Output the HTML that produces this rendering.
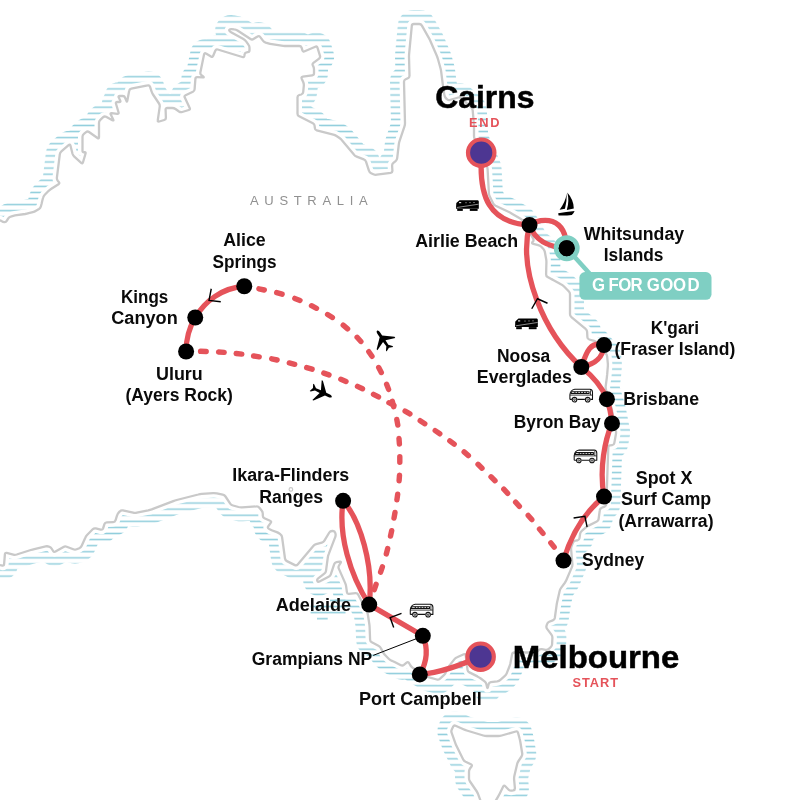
<!DOCTYPE html>
<html lang="en">
<head>
<meta charset="utf-8">
<title>Australia route map: Melbourne to Cairns</title>
<style>
html,body{margin:0;padding:0;background:#fff;}
body{width:800px;height:800px;overflow:hidden;}
svg{display:block;will-change:transform;}
text{font-family:"Liberation Sans",sans-serif;}
.pl{font-weight:bold;font-size:18px;fill:#0a0a0a;}
.big{font-weight:bold;font-size:32px;fill:#000;stroke:#000;stroke-width:0.5px;}
.tag{font-weight:bold;font-size:12.8px;fill:#e5535a;}
.ctry{font-size:13px;fill:#909090;}
.rt{fill:none;stroke:#e5535a;stroke-width:5.3;stroke-linecap:round;stroke-linejoin:round;}
.fl{fill:none;stroke:#e5535a;stroke-width:5.4;stroke-linecap:round;}
.gfg{font-weight:bold;font-size:17.5px;fill:#fff;}
.dot circle{fill:#000;}
.arr{fill:none;stroke:#000;stroke-width:1.4;stroke-linejoin:miter;}
</style>
</head>
<body>
<svg width="800" height="800" viewBox="0 0 800 800" role="img" aria-label="Route map of Australia from Melbourne to Cairns">
<defs>
<pattern id="hatch" patternUnits="userSpaceOnUse" x="0" y="37.155" width="800" height="6.09">
<rect x="0" y="2.295" width="800" height="1.5" fill="#90cedc"/>
</pattern>
</defs>
<rect width="800" height="800" fill="#fff"/>
<!-- sea hatching -->
<g fill="none" stroke="url(#hatch)" stroke-width="28" stroke-linejoin="round" stroke-linecap="round">
<path d="M-20.0,223.8Q-20,222 -18.2,221.8L-1.8,220.2Q0,220 1.4,221.0L1.6,221.2Q3,222.25 4.3,222.2L4.7,222.2Q6,222.25 6.9,220.7L8.1,218.6Q9,217 10.7,216.6L13.3,215.9Q15,215.5 16.8,215.2L25.2,214.0Q27,213.7 28.7,213.2L32.8,212.2Q34.5,211.75 36.0,210.8L39.0,209.0Q40.5,208 40.9,206.3L41.6,203.7Q42,202 42.4,200.3L43.1,197.7Q43.5,196 44.8,194.7L48.2,191.3Q49.5,190 51.0,189.0L58.5,184.2Q60,183.25 58.8,181.9L57.9,180.9Q56.7,179.5 56.9,177.7L59.8,154.3Q60,152.5 61.4,151.3L68.6,145.2Q70,144 70.5,145.7L72.5,153.8Q73,155.5 74.3,156.7L81.2,162.8Q82.5,164 83.0,162.3L85.5,153.7Q86,152 84.4,152.2L84.1,152.3Q82.5,152.5 82.5,150.7L82.5,136.8Q82.5,135 83.9,133.9L86.1,132.1Q87.5,131 89.0,132.0L97.5,138.0Q99,139 99.0,137.2L99.0,122.8Q99,121 100.3,119.8L103.2,117.2Q104.5,116 106.1,116.8L112.4,120.2Q114,121 113.2,119.4L110.8,114.6Q110,113 111.8,113.2L117.2,113.8Q119,114 118.5,112.3L116.0,103.7Q115.5,102 117.3,102.0L119.2,102.0Q121,102 120.2,100.4L118.8,97.6Q118,96 119.8,96.0L122.7,96.0Q124.5,96 125.1,97.7L126.4,100.8Q127,102.5 127.3,100.7L129.2,90.8Q129.5,89 131.3,88.6L147.7,85.4Q149.5,85 150.0,86.7L151.5,91.3Q152,93 153.0,94.5L159.0,103.5Q160,105 159.7,106.8L157.8,120.2Q157.5,122 159.2,121.5L164.3,120.0Q166,119.5 165.9,117.7L165.6,109.8Q165.5,108 167.3,108.0L172.2,108.0Q174,108 175.5,109.0L179.0,111.5Q180.5,112.5 182.2,112.0L188.8,110.0Q190.5,109.5 189.7,107.9L184.8,97.6Q184,96 185.6,95.2L192.9,91.8Q194.5,91 194.6,89.2L195.4,78.8Q195.5,77 197.3,77.1L202.7,77.4Q204.5,77.5 203.1,76.4L201.4,75.1Q200,74 200.4,72.2L204.1,54.3Q204.5,52.5 206.0,53.5L211.0,56.5Q212.5,57.5 213.2,55.8L215.3,50.7Q216,49 217.7,49.5L242.3,57.0Q244,57.5 244.4,55.7L244.6,54.3Q245,52.5 246.8,52.3L247.7,52.2Q249.5,52 249.5,50.2L249.5,47.8Q249.5,46 248.4,44.6L246.1,41.4Q245,40 243.4,39.1L230.6,31.9Q229,31 229.2,30.1L229.3,29.9Q229.5,29 231.3,29.1L234.2,29.4Q236,29.5 237.5,30.5L250.5,39.0Q252,40 253.5,39.0L257.5,36.5Q259,35.5 260.1,36.9L262.9,40.6Q264,42 265.7,42.6L268.3,43.4Q270,44 271.8,44.2L283.2,45.8Q285,46 286.8,46.0L299.2,46.0Q301,46 301.6,47.7L302.4,50.3Q303,52 304.7,51.3L315.3,46.7Q317,46 317.5,47.7L320.0,55.8Q320.5,57.5 319.1,58.6L313.4,62.9Q312,64 312.9,65.6L313.1,65.9Q314,67.5 314.0,69.3L314.0,73.2Q314,75 312.2,75.3L302.8,76.7Q301,77 301.7,78.7L303.3,82.3Q304,84 303.8,85.8L303.2,92.2Q303,94 301.3,94.5L299.2,95.0Q297.5,95.5 297.5,97.3L297.5,113.7Q297.5,115.5 299.1,116.3L312.9,123.2Q314.5,124 314.6,125.8L314.9,128.2Q315,130 316.7,130.4L333.3,134.6Q335,135 336.5,136.0L339.5,138.0Q341,139 342.1,140.4L353.9,154.6Q355,156 356.7,156.6L363.8,159.4Q365.5,160 366.0,161.7L369.0,170.8Q369.5,172.5 371.1,173.2L373.4,174.3Q375,175 376.8,174.7L390.7,172.8Q392.5,172.5 392.4,170.7L392.1,165.8Q392,164 393.4,162.9L395.6,161.1Q397,160 397.2,158.2L398.8,144.3Q399,142.5 399.6,140.8L404.4,126.7Q405,125 405.0,123.2L404.0,81.8Q404,80 405.6,79.3L407.9,78.2Q409.5,77.5 409.5,75.7L409.0,56.8Q409,55 409.2,53.2L411.8,25.8Q412,24 413.8,24.0L419.2,24.0Q421,24 421.9,25.6L429.1,38.4Q430,40 430.7,41.7L436.8,55.8Q437.5,57.5 438.0,59.2L440.5,68.3Q441,70 441.2,71.8L442.5,82.2Q442.75,84 443.0,85.8L444.3,94.7Q444.5,96.5 445.7,97.9L446.8,99.1Q448,100.5 449.7,100.0L458.3,97.5Q460,97 461.3,98.2L471.2,107.3Q472.5,108.5 472.7,110.3L473.8,123.2Q474,125 474.0,126.8L474.0,135.7Q474,137.5 474.7,139.1L486.8,165.9Q487.5,167.5 487.6,169.3L488.9,193.2Q489,195 489.8,196.6L493.2,203.4Q494,205 495.6,205.8L508.4,211.7Q510,212.5 511.5,213.4L521.0,219.1Q522.5,220 523.4,221.6L533.1,238.4Q534,240 533.0,241.5L532.5,242.0Q531.5,243.5 533.3,243.9L538.2,245.1Q540,245.5 541.3,246.8L543.2,248.7Q544.5,250 544.8,251.8L546.2,259.2Q546.5,261 546.4,262.8L546.1,274.2Q546,276 547.6,276.9L550.4,278.6Q552,279.5 553.6,280.3L560.9,284.2Q562.5,285 563.8,286.3L568.7,291.2Q570,292.5 570.0,294.3L570.0,314.2Q570,316 571.4,317.1L585.6,328.9Q587,330 587.1,331.8L587.4,337.2Q587.5,339 589.2,339.5L594.3,340.9Q596,341.4 597.1,342.8L605.9,353.6Q607,355 607.2,356.8L607.8,363.2Q608,365 607.8,366.8L607.2,374.2Q607,376 606.8,377.8L605.7,386.2Q605.5,388 606.0,389.7L611.5,408.3Q612,410 612.3,411.8L615.9,430.7Q616.25,432.5 615.9,434.3L614.3,443.1Q614,444.9 612.2,445.1L610.2,445.3Q608.4,445.5 608.3,447.3L607.3,475.7Q607.25,477.5 607.2,479.3L606.3,504.2Q606.25,506 604.6,506.6L601.7,507.8Q600,508.4 599.8,510.2L598.6,519.0Q598.4,520.75 596.8,521.5L588.6,525.6Q587,526.4 585.6,527.6L581.8,530.8Q580.4,532 580.1,533.8L579.5,538.2Q579.25,540 577.5,540.3L575.4,540.7Q573.6,541 572.9,542.7L571.7,545.8Q571,547.5 571.1,549.3L572.4,564.0Q572.5,565.75 571.8,567.4L566.5,579.8Q565.75,581.5 564.7,583.0L561.1,587.9Q560,589.4 559.6,591.2L557.1,602.2Q556.75,604 556.5,605.8L554.8,618.0Q554.5,619.75 552.8,620.4L549.2,621.8Q547.5,622.5 547.0,624.2L546.5,625.8Q546,627.5 547.1,628.9L551.4,634.6Q552.5,636 552.4,637.8L552.1,644.2Q552,646 550.7,647.2L548.8,648.8Q547.5,650 545.7,649.8L541.8,649.2Q540,649 538.6,650.2L537.4,651.3Q536,652.5 534.2,652.5L514.3,652.5Q512.5,652.5 512.1,654.3L510.4,663.2Q510,665 509.3,666.7L506.7,673.3Q506,675 504.6,676.2L500.4,679.8Q499,681 497.2,681.3L490.8,682.2Q489,682.5 488.6,684.3L487.9,687.2Q487.5,689 487.1,687.2L486.4,684.3Q486,682.5 484.6,681.4L480.4,678.3Q479,677.25 477.4,676.4L469.4,672.4Q467.75,671.6 467.5,669.8L465.7,655.4Q465.5,653.6 463.8,654.3L457.1,657.3Q455.4,658 454.3,659.4L448.6,666.6Q447.5,668 446.9,669.7L445.9,672.2Q445.25,673.9 443.9,675.1L439.8,678.8Q438.5,680 436.8,679.5L430.1,677.7Q428.4,677.25 426.9,676.3L413.0,667.9Q411.5,667 410.5,665.5L409.0,663.0Q408,661.5 406.6,662.6L403.9,664.9Q402.5,666 400.9,665.2L395.1,662.3Q393.5,661.5 391.9,660.8L391.6,660.7Q390,660 388.7,658.7L385.3,655.3Q384,654 383.2,652.4L380.8,648.1Q380,646.5 378.4,645.7L371.8,642.3Q370.2,641.5 370.1,639.7L369.6,626.8Q369.5,625 369.2,623.2L367.8,614.3Q367.5,612.5 366.7,610.9L358.1,594.5Q357.25,592.9 355.5,593.1L348.9,593.8Q347.1,594 346.9,592.2L346.2,586.8Q346,585 345.3,583.4L338.8,568.6Q338.1,567 339.0,565.5L340.6,562.9Q341.5,561.4 339.7,561.7L336.5,562.2Q334.75,562.5 334.2,564.2L330.8,574.3Q330.25,576 328.6,576.8L319.5,581.5Q317.9,582.3 317.4,581.0L317.3,580.7Q316.75,579.4 318.2,578.3L324.3,573.7Q325.75,572.6 326.0,570.8L327.8,557.5Q328,555.75 328.7,554.1L335.2,537.2Q335.9,535.5 335.5,533.8L335.2,532.7Q334.75,531 332.9,531.0L332.1,531.0Q330.25,531 329.3,532.5L324.4,540.7Q323.5,542.25 321.8,542.7L316.2,544.1Q314.5,544.5 313.3,545.9L297.7,564.5Q296.5,565.9 294.9,565.1L286.9,561.1Q285.25,560.25 285.0,558.5L282.1,537.3Q281.9,535.5 280.5,534.4L279.9,533.9Q278.5,532.8 276.8,532.2L272.3,530.5Q270.6,529.9 269.1,528.9L268.7,528.6Q267.25,527.6 268.3,526.2L270.7,522.9Q271.75,521.5 270.1,520.8L264.4,518.2Q262.75,517.5 262.8,515.7L262.8,513.7Q262.75,511.9 261.6,510.5L259.4,507.7Q258.25,506.25 256.5,506.4L242.0,507.3Q240.25,507.4 238.5,507.0L233.0,505.5Q231.25,505.1 230.2,503.6L225.5,496.5Q224.5,495 222.7,494.6L216.8,493.4Q215,493 213.2,493.1L201.8,493.9Q200,494 198.3,494.5L176.7,500.0Q175,500.5 173.3,501.1L151.7,509.4Q150,510 148.2,510.4L136.8,512.6Q135,513 133.2,512.6L122.8,510.4Q121,510 119.8,511.4L118.7,512.6Q117.5,514 117.0,515.7L115.5,520.3Q115,522 113.2,522.1L106.8,522.4Q105,522.5 104.4,524.2L103.1,528.3Q102.5,530 100.7,529.6L95.8,528.4Q94,528 92.7,529.3L87.3,534.7Q86,536 85.3,537.7L81.7,545.8Q81,547.5 79.3,548.2L76.7,549.3Q75,550 73.3,549.3L66.7,546.7Q65,546 63.5,546.9L55.5,551.6Q54,552.5 53.1,551.0L51.9,549.0Q51,547.5 49.4,546.8L49.1,546.7Q47.5,546 45.7,546.4L34.3,549.1Q32.5,549.5 30.8,550.0L16.7,554.5Q15,555 13.3,554.6L6.7,552.9Q5,552.5 4.9,554.3L4.1,564.2Q4,566 2.3,565.6L1.7,565.4Q0,565 -1.8,565.0L-18.2,565.0Q-20,565 -20.0,563.2Z"/>
<path d="M451.6,732.7Q451,731 451.8,729.4L453.2,726.6Q454,725 455.6,725.7L463.4,729.3Q465,730 466.7,730.5L483.3,735.5Q485,736 486.8,736.0L498.2,736.0Q500,736 501.7,735.5L515.8,731.5Q517.5,731 518.0,732.7L519.5,738.3Q520,740 520.3,741.8L522.2,753.2Q522.5,755 521.5,756.5L518.5,761.0Q517.5,762.5 517.1,764.3L514.4,775.7Q514,777.5 514.1,779.3L514.9,788.2Q515,790 513.2,790.4L511.8,790.6Q510,791 508.7,789.7L505.3,786.3Q504,785 503.2,786.6L499.8,793.4Q499,795 498.1,796.6L495.9,800.4Q495,802 494.7,803.8L490.3,828.2Q490,830 489.4,828.3L481.6,803.7Q481,802 480.4,800.3L478.1,794.2Q477.5,792.5 476.5,791.0L470.0,781.5Q469,780 469.0,778.2L469.0,771.8Q469,770 470.0,768.5L471.5,766.5Q472.5,765 470.9,764.2L465.6,761.8Q464,761 463.2,759.4L456.8,746.6Q456,745 455.4,743.3Z"/>
</g>
<path d="M310.6,603 H345.5 V598 H330 V603 M310.6,603 V616 H317 V622 H327.7 V616 H345.5 V603 Z" fill="url(#hatch)"/>
<!-- land -->
<g fill="#fff" stroke="#fff" stroke-width="9" stroke-linejoin="round">
<path d="M-20.0,223.8Q-20,222 -18.2,221.8L-1.8,220.2Q0,220 1.4,221.0L1.6,221.2Q3,222.25 4.3,222.2L4.7,222.2Q6,222.25 6.9,220.7L8.1,218.6Q9,217 10.7,216.6L13.3,215.9Q15,215.5 16.8,215.2L25.2,214.0Q27,213.7 28.7,213.2L32.8,212.2Q34.5,211.75 36.0,210.8L39.0,209.0Q40.5,208 40.9,206.3L41.6,203.7Q42,202 42.4,200.3L43.1,197.7Q43.5,196 44.8,194.7L48.2,191.3Q49.5,190 51.0,189.0L58.5,184.2Q60,183.25 58.8,181.9L57.9,180.9Q56.7,179.5 56.9,177.7L59.8,154.3Q60,152.5 61.4,151.3L68.6,145.2Q70,144 70.5,145.7L72.5,153.8Q73,155.5 74.3,156.7L81.2,162.8Q82.5,164 83.0,162.3L85.5,153.7Q86,152 84.4,152.2L84.1,152.3Q82.5,152.5 82.5,150.7L82.5,136.8Q82.5,135 83.9,133.9L86.1,132.1Q87.5,131 89.0,132.0L97.5,138.0Q99,139 99.0,137.2L99.0,122.8Q99,121 100.3,119.8L103.2,117.2Q104.5,116 106.1,116.8L112.4,120.2Q114,121 113.2,119.4L110.8,114.6Q110,113 111.8,113.2L117.2,113.8Q119,114 118.5,112.3L116.0,103.7Q115.5,102 117.3,102.0L119.2,102.0Q121,102 120.2,100.4L118.8,97.6Q118,96 119.8,96.0L122.7,96.0Q124.5,96 125.1,97.7L126.4,100.8Q127,102.5 127.3,100.7L129.2,90.8Q129.5,89 131.3,88.6L147.7,85.4Q149.5,85 150.0,86.7L151.5,91.3Q152,93 153.0,94.5L159.0,103.5Q160,105 159.7,106.8L157.8,120.2Q157.5,122 159.2,121.5L164.3,120.0Q166,119.5 165.9,117.7L165.6,109.8Q165.5,108 167.3,108.0L172.2,108.0Q174,108 175.5,109.0L179.0,111.5Q180.5,112.5 182.2,112.0L188.8,110.0Q190.5,109.5 189.7,107.9L184.8,97.6Q184,96 185.6,95.2L192.9,91.8Q194.5,91 194.6,89.2L195.4,78.8Q195.5,77 197.3,77.1L202.7,77.4Q204.5,77.5 203.1,76.4L201.4,75.1Q200,74 200.4,72.2L204.1,54.3Q204.5,52.5 206.0,53.5L211.0,56.5Q212.5,57.5 213.2,55.8L215.3,50.7Q216,49 217.7,49.5L242.3,57.0Q244,57.5 244.4,55.7L244.6,54.3Q245,52.5 246.8,52.3L247.7,52.2Q249.5,52 249.5,50.2L249.5,47.8Q249.5,46 248.4,44.6L246.1,41.4Q245,40 243.4,39.1L230.6,31.9Q229,31 229.2,30.1L229.3,29.9Q229.5,29 231.3,29.1L234.2,29.4Q236,29.5 237.5,30.5L250.5,39.0Q252,40 253.5,39.0L257.5,36.5Q259,35.5 260.1,36.9L262.9,40.6Q264,42 265.7,42.6L268.3,43.4Q270,44 271.8,44.2L283.2,45.8Q285,46 286.8,46.0L299.2,46.0Q301,46 301.6,47.7L302.4,50.3Q303,52 304.7,51.3L315.3,46.7Q317,46 317.5,47.7L320.0,55.8Q320.5,57.5 319.1,58.6L313.4,62.9Q312,64 312.9,65.6L313.1,65.9Q314,67.5 314.0,69.3L314.0,73.2Q314,75 312.2,75.3L302.8,76.7Q301,77 301.7,78.7L303.3,82.3Q304,84 303.8,85.8L303.2,92.2Q303,94 301.3,94.5L299.2,95.0Q297.5,95.5 297.5,97.3L297.5,113.7Q297.5,115.5 299.1,116.3L312.9,123.2Q314.5,124 314.6,125.8L314.9,128.2Q315,130 316.7,130.4L333.3,134.6Q335,135 336.5,136.0L339.5,138.0Q341,139 342.1,140.4L353.9,154.6Q355,156 356.7,156.6L363.8,159.4Q365.5,160 366.0,161.7L369.0,170.8Q369.5,172.5 371.1,173.2L373.4,174.3Q375,175 376.8,174.7L390.7,172.8Q392.5,172.5 392.4,170.7L392.1,165.8Q392,164 393.4,162.9L395.6,161.1Q397,160 397.2,158.2L398.8,144.3Q399,142.5 399.6,140.8L404.4,126.7Q405,125 405.0,123.2L404.0,81.8Q404,80 405.6,79.3L407.9,78.2Q409.5,77.5 409.5,75.7L409.0,56.8Q409,55 409.2,53.2L411.8,25.8Q412,24 413.8,24.0L419.2,24.0Q421,24 421.9,25.6L429.1,38.4Q430,40 430.7,41.7L436.8,55.8Q437.5,57.5 438.0,59.2L440.5,68.3Q441,70 441.2,71.8L442.5,82.2Q442.75,84 443.0,85.8L444.3,94.7Q444.5,96.5 445.7,97.9L446.8,99.1Q448,100.5 449.7,100.0L458.3,97.5Q460,97 461.3,98.2L471.2,107.3Q472.5,108.5 472.7,110.3L473.8,123.2Q474,125 474.0,126.8L474.0,135.7Q474,137.5 474.7,139.1L486.8,165.9Q487.5,167.5 487.6,169.3L488.9,193.2Q489,195 489.8,196.6L493.2,203.4Q494,205 495.6,205.8L508.4,211.7Q510,212.5 511.5,213.4L521.0,219.1Q522.5,220 523.4,221.6L533.1,238.4Q534,240 533.0,241.5L532.5,242.0Q531.5,243.5 533.3,243.9L538.2,245.1Q540,245.5 541.3,246.8L543.2,248.7Q544.5,250 544.8,251.8L546.2,259.2Q546.5,261 546.4,262.8L546.1,274.2Q546,276 547.6,276.9L550.4,278.6Q552,279.5 553.6,280.3L560.9,284.2Q562.5,285 563.8,286.3L568.7,291.2Q570,292.5 570.0,294.3L570.0,314.2Q570,316 571.4,317.1L585.6,328.9Q587,330 587.1,331.8L587.4,337.2Q587.5,339 589.2,339.5L594.3,340.9Q596,341.4 597.1,342.8L605.9,353.6Q607,355 607.2,356.8L607.8,363.2Q608,365 607.8,366.8L607.2,374.2Q607,376 606.8,377.8L605.7,386.2Q605.5,388 606.0,389.7L611.5,408.3Q612,410 612.3,411.8L615.9,430.7Q616.25,432.5 615.9,434.3L614.3,443.1Q614,444.9 612.2,445.1L610.2,445.3Q608.4,445.5 608.3,447.3L607.3,475.7Q607.25,477.5 607.2,479.3L606.3,504.2Q606.25,506 604.6,506.6L601.7,507.8Q600,508.4 599.8,510.2L598.6,519.0Q598.4,520.75 596.8,521.5L588.6,525.6Q587,526.4 585.6,527.6L581.8,530.8Q580.4,532 580.1,533.8L579.5,538.2Q579.25,540 577.5,540.3L575.4,540.7Q573.6,541 572.9,542.7L571.7,545.8Q571,547.5 571.1,549.3L572.4,564.0Q572.5,565.75 571.8,567.4L566.5,579.8Q565.75,581.5 564.7,583.0L561.1,587.9Q560,589.4 559.6,591.2L557.1,602.2Q556.75,604 556.5,605.8L554.8,618.0Q554.5,619.75 552.8,620.4L549.2,621.8Q547.5,622.5 547.0,624.2L546.5,625.8Q546,627.5 547.1,628.9L551.4,634.6Q552.5,636 552.4,637.8L552.1,644.2Q552,646 550.7,647.2L548.8,648.8Q547.5,650 545.7,649.8L541.8,649.2Q540,649 538.6,650.2L537.4,651.3Q536,652.5 534.2,652.5L514.3,652.5Q512.5,652.5 512.1,654.3L510.4,663.2Q510,665 509.3,666.7L506.7,673.3Q506,675 504.6,676.2L500.4,679.8Q499,681 497.2,681.3L490.8,682.2Q489,682.5 488.6,684.3L487.9,687.2Q487.5,689 487.1,687.2L486.4,684.3Q486,682.5 484.6,681.4L480.4,678.3Q479,677.25 477.4,676.4L469.4,672.4Q467.75,671.6 467.5,669.8L465.7,655.4Q465.5,653.6 463.8,654.3L457.1,657.3Q455.4,658 454.3,659.4L448.6,666.6Q447.5,668 446.9,669.7L445.9,672.2Q445.25,673.9 443.9,675.1L439.8,678.8Q438.5,680 436.8,679.5L430.1,677.7Q428.4,677.25 426.9,676.3L413.0,667.9Q411.5,667 410.5,665.5L409.0,663.0Q408,661.5 406.6,662.6L403.9,664.9Q402.5,666 400.9,665.2L395.1,662.3Q393.5,661.5 391.9,660.8L391.6,660.7Q390,660 388.7,658.7L385.3,655.3Q384,654 383.2,652.4L380.8,648.1Q380,646.5 378.4,645.7L371.8,642.3Q370.2,641.5 370.1,639.7L369.6,626.8Q369.5,625 369.2,623.2L367.8,614.3Q367.5,612.5 366.7,610.9L358.1,594.5Q357.25,592.9 355.5,593.1L348.9,593.8Q347.1,594 346.9,592.2L346.2,586.8Q346,585 345.3,583.4L338.8,568.6Q338.1,567 339.0,565.5L340.6,562.9Q341.5,561.4 339.7,561.7L336.5,562.2Q334.75,562.5 334.2,564.2L330.8,574.3Q330.25,576 328.6,576.8L319.5,581.5Q317.9,582.3 317.4,581.0L317.3,580.7Q316.75,579.4 318.2,578.3L324.3,573.7Q325.75,572.6 326.0,570.8L327.8,557.5Q328,555.75 328.7,554.1L335.2,537.2Q335.9,535.5 335.5,533.8L335.2,532.7Q334.75,531 332.9,531.0L332.1,531.0Q330.25,531 329.3,532.5L324.4,540.7Q323.5,542.25 321.8,542.7L316.2,544.1Q314.5,544.5 313.3,545.9L297.7,564.5Q296.5,565.9 294.9,565.1L286.9,561.1Q285.25,560.25 285.0,558.5L282.1,537.3Q281.9,535.5 280.5,534.4L279.9,533.9Q278.5,532.8 276.8,532.2L272.3,530.5Q270.6,529.9 269.1,528.9L268.7,528.6Q267.25,527.6 268.3,526.2L270.7,522.9Q271.75,521.5 270.1,520.8L264.4,518.2Q262.75,517.5 262.8,515.7L262.8,513.7Q262.75,511.9 261.6,510.5L259.4,507.7Q258.25,506.25 256.5,506.4L242.0,507.3Q240.25,507.4 238.5,507.0L233.0,505.5Q231.25,505.1 230.2,503.6L225.5,496.5Q224.5,495 222.7,494.6L216.8,493.4Q215,493 213.2,493.1L201.8,493.9Q200,494 198.3,494.5L176.7,500.0Q175,500.5 173.3,501.1L151.7,509.4Q150,510 148.2,510.4L136.8,512.6Q135,513 133.2,512.6L122.8,510.4Q121,510 119.8,511.4L118.7,512.6Q117.5,514 117.0,515.7L115.5,520.3Q115,522 113.2,522.1L106.8,522.4Q105,522.5 104.4,524.2L103.1,528.3Q102.5,530 100.7,529.6L95.8,528.4Q94,528 92.7,529.3L87.3,534.7Q86,536 85.3,537.7L81.7,545.8Q81,547.5 79.3,548.2L76.7,549.3Q75,550 73.3,549.3L66.7,546.7Q65,546 63.5,546.9L55.5,551.6Q54,552.5 53.1,551.0L51.9,549.0Q51,547.5 49.4,546.8L49.1,546.7Q47.5,546 45.7,546.4L34.3,549.1Q32.5,549.5 30.8,550.0L16.7,554.5Q15,555 13.3,554.6L6.7,552.9Q5,552.5 4.9,554.3L4.1,564.2Q4,566 2.3,565.6L1.7,565.4Q0,565 -1.8,565.0L-18.2,565.0Q-20,565 -20.0,563.2Z"/>
<path d="M451.6,732.7Q451,731 451.8,729.4L453.2,726.6Q454,725 455.6,725.7L463.4,729.3Q465,730 466.7,730.5L483.3,735.5Q485,736 486.8,736.0L498.2,736.0Q500,736 501.7,735.5L515.8,731.5Q517.5,731 518.0,732.7L519.5,738.3Q520,740 520.3,741.8L522.2,753.2Q522.5,755 521.5,756.5L518.5,761.0Q517.5,762.5 517.1,764.3L514.4,775.7Q514,777.5 514.1,779.3L514.9,788.2Q515,790 513.2,790.4L511.8,790.6Q510,791 508.7,789.7L505.3,786.3Q504,785 503.2,786.6L499.8,793.4Q499,795 498.1,796.6L495.9,800.4Q495,802 494.7,803.8L490.3,828.2Q490,830 489.4,828.3L481.6,803.7Q481,802 480.4,800.3L478.1,794.2Q477.5,792.5 476.5,791.0L470.0,781.5Q469,780 469.0,778.2L469.0,771.8Q469,770 470.0,768.5L471.5,766.5Q472.5,765 470.9,764.2L465.6,761.8Q464,761 463.2,759.4L456.8,746.6Q456,745 455.4,743.3Z"/>
</g>
<g fill="none" stroke="#c9c9c9" stroke-width="2.3" stroke-linejoin="round">
<path d="M-20.0,223.8Q-20,222 -18.2,221.8L-1.8,220.2Q0,220 1.4,221.0L1.6,221.2Q3,222.25 4.3,222.2L4.7,222.2Q6,222.25 6.9,220.7L8.1,218.6Q9,217 10.7,216.6L13.3,215.9Q15,215.5 16.8,215.2L25.2,214.0Q27,213.7 28.7,213.2L32.8,212.2Q34.5,211.75 36.0,210.8L39.0,209.0Q40.5,208 40.9,206.3L41.6,203.7Q42,202 42.4,200.3L43.1,197.7Q43.5,196 44.8,194.7L48.2,191.3Q49.5,190 51.0,189.0L58.5,184.2Q60,183.25 58.8,181.9L57.9,180.9Q56.7,179.5 56.9,177.7L59.8,154.3Q60,152.5 61.4,151.3L68.6,145.2Q70,144 70.5,145.7L72.5,153.8Q73,155.5 74.3,156.7L81.2,162.8Q82.5,164 83.0,162.3L85.5,153.7Q86,152 84.4,152.2L84.1,152.3Q82.5,152.5 82.5,150.7L82.5,136.8Q82.5,135 83.9,133.9L86.1,132.1Q87.5,131 89.0,132.0L97.5,138.0Q99,139 99.0,137.2L99.0,122.8Q99,121 100.3,119.8L103.2,117.2Q104.5,116 106.1,116.8L112.4,120.2Q114,121 113.2,119.4L110.8,114.6Q110,113 111.8,113.2L117.2,113.8Q119,114 118.5,112.3L116.0,103.7Q115.5,102 117.3,102.0L119.2,102.0Q121,102 120.2,100.4L118.8,97.6Q118,96 119.8,96.0L122.7,96.0Q124.5,96 125.1,97.7L126.4,100.8Q127,102.5 127.3,100.7L129.2,90.8Q129.5,89 131.3,88.6L147.7,85.4Q149.5,85 150.0,86.7L151.5,91.3Q152,93 153.0,94.5L159.0,103.5Q160,105 159.7,106.8L157.8,120.2Q157.5,122 159.2,121.5L164.3,120.0Q166,119.5 165.9,117.7L165.6,109.8Q165.5,108 167.3,108.0L172.2,108.0Q174,108 175.5,109.0L179.0,111.5Q180.5,112.5 182.2,112.0L188.8,110.0Q190.5,109.5 189.7,107.9L184.8,97.6Q184,96 185.6,95.2L192.9,91.8Q194.5,91 194.6,89.2L195.4,78.8Q195.5,77 197.3,77.1L202.7,77.4Q204.5,77.5 203.1,76.4L201.4,75.1Q200,74 200.4,72.2L204.1,54.3Q204.5,52.5 206.0,53.5L211.0,56.5Q212.5,57.5 213.2,55.8L215.3,50.7Q216,49 217.7,49.5L242.3,57.0Q244,57.5 244.4,55.7L244.6,54.3Q245,52.5 246.8,52.3L247.7,52.2Q249.5,52 249.5,50.2L249.5,47.8Q249.5,46 248.4,44.6L246.1,41.4Q245,40 243.4,39.1L230.6,31.9Q229,31 229.2,30.1L229.3,29.9Q229.5,29 231.3,29.1L234.2,29.4Q236,29.5 237.5,30.5L250.5,39.0Q252,40 253.5,39.0L257.5,36.5Q259,35.5 260.1,36.9L262.9,40.6Q264,42 265.7,42.6L268.3,43.4Q270,44 271.8,44.2L283.2,45.8Q285,46 286.8,46.0L299.2,46.0Q301,46 301.6,47.7L302.4,50.3Q303,52 304.7,51.3L315.3,46.7Q317,46 317.5,47.7L320.0,55.8Q320.5,57.5 319.1,58.6L313.4,62.9Q312,64 312.9,65.6L313.1,65.9Q314,67.5 314.0,69.3L314.0,73.2Q314,75 312.2,75.3L302.8,76.7Q301,77 301.7,78.7L303.3,82.3Q304,84 303.8,85.8L303.2,92.2Q303,94 301.3,94.5L299.2,95.0Q297.5,95.5 297.5,97.3L297.5,113.7Q297.5,115.5 299.1,116.3L312.9,123.2Q314.5,124 314.6,125.8L314.9,128.2Q315,130 316.7,130.4L333.3,134.6Q335,135 336.5,136.0L339.5,138.0Q341,139 342.1,140.4L353.9,154.6Q355,156 356.7,156.6L363.8,159.4Q365.5,160 366.0,161.7L369.0,170.8Q369.5,172.5 371.1,173.2L373.4,174.3Q375,175 376.8,174.7L390.7,172.8Q392.5,172.5 392.4,170.7L392.1,165.8Q392,164 393.4,162.9L395.6,161.1Q397,160 397.2,158.2L398.8,144.3Q399,142.5 399.6,140.8L404.4,126.7Q405,125 405.0,123.2L404.0,81.8Q404,80 405.6,79.3L407.9,78.2Q409.5,77.5 409.5,75.7L409.0,56.8Q409,55 409.2,53.2L411.8,25.8Q412,24 413.8,24.0L419.2,24.0Q421,24 421.9,25.6L429.1,38.4Q430,40 430.7,41.7L436.8,55.8Q437.5,57.5 438.0,59.2L440.5,68.3Q441,70 441.2,71.8L442.5,82.2Q442.75,84 443.0,85.8L444.3,94.7Q444.5,96.5 445.7,97.9L446.8,99.1Q448,100.5 449.7,100.0L458.3,97.5Q460,97 461.3,98.2L471.2,107.3Q472.5,108.5 472.7,110.3L473.8,123.2Q474,125 474.0,126.8L474.0,135.7Q474,137.5 474.7,139.1L486.8,165.9Q487.5,167.5 487.6,169.3L488.9,193.2Q489,195 489.8,196.6L493.2,203.4Q494,205 495.6,205.8L508.4,211.7Q510,212.5 511.5,213.4L521.0,219.1Q522.5,220 523.4,221.6L533.1,238.4Q534,240 533.0,241.5L532.5,242.0Q531.5,243.5 533.3,243.9L538.2,245.1Q540,245.5 541.3,246.8L543.2,248.7Q544.5,250 544.8,251.8L546.2,259.2Q546.5,261 546.4,262.8L546.1,274.2Q546,276 547.6,276.9L550.4,278.6Q552,279.5 553.6,280.3L560.9,284.2Q562.5,285 563.8,286.3L568.7,291.2Q570,292.5 570.0,294.3L570.0,314.2Q570,316 571.4,317.1L585.6,328.9Q587,330 587.1,331.8L587.4,337.2Q587.5,339 589.2,339.5L594.3,340.9Q596,341.4 597.1,342.8L605.9,353.6Q607,355 607.2,356.8L607.8,363.2Q608,365 607.8,366.8L607.2,374.2Q607,376 606.8,377.8L605.7,386.2Q605.5,388 606.0,389.7L611.5,408.3Q612,410 612.3,411.8L615.9,430.7Q616.25,432.5 615.9,434.3L614.3,443.1Q614,444.9 612.2,445.1L610.2,445.3Q608.4,445.5 608.3,447.3L607.3,475.7Q607.25,477.5 607.2,479.3L606.3,504.2Q606.25,506 604.6,506.6L601.7,507.8Q600,508.4 599.8,510.2L598.6,519.0Q598.4,520.75 596.8,521.5L588.6,525.6Q587,526.4 585.6,527.6L581.8,530.8Q580.4,532 580.1,533.8L579.5,538.2Q579.25,540 577.5,540.3L575.4,540.7Q573.6,541 572.9,542.7L571.7,545.8Q571,547.5 571.1,549.3L572.4,564.0Q572.5,565.75 571.8,567.4L566.5,579.8Q565.75,581.5 564.7,583.0L561.1,587.9Q560,589.4 559.6,591.2L557.1,602.2Q556.75,604 556.5,605.8L554.8,618.0Q554.5,619.75 552.8,620.4L549.2,621.8Q547.5,622.5 547.0,624.2L546.5,625.8Q546,627.5 547.1,628.9L551.4,634.6Q552.5,636 552.4,637.8L552.1,644.2Q552,646 550.7,647.2L548.8,648.8Q547.5,650 545.7,649.8L541.8,649.2Q540,649 538.6,650.2L537.4,651.3Q536,652.5 534.2,652.5L514.3,652.5Q512.5,652.5 512.1,654.3L510.4,663.2Q510,665 509.3,666.7L506.7,673.3Q506,675 504.6,676.2L500.4,679.8Q499,681 497.2,681.3L490.8,682.2Q489,682.5 488.6,684.3L487.9,687.2Q487.5,689 487.1,687.2L486.4,684.3Q486,682.5 484.6,681.4L480.4,678.3Q479,677.25 477.4,676.4L469.4,672.4Q467.75,671.6 467.5,669.8L465.7,655.4Q465.5,653.6 463.8,654.3L457.1,657.3Q455.4,658 454.3,659.4L448.6,666.6Q447.5,668 446.9,669.7L445.9,672.2Q445.25,673.9 443.9,675.1L439.8,678.8Q438.5,680 436.8,679.5L430.1,677.7Q428.4,677.25 426.9,676.3L413.0,667.9Q411.5,667 410.5,665.5L409.0,663.0Q408,661.5 406.6,662.6L403.9,664.9Q402.5,666 400.9,665.2L395.1,662.3Q393.5,661.5 391.9,660.8L391.6,660.7Q390,660 388.7,658.7L385.3,655.3Q384,654 383.2,652.4L380.8,648.1Q380,646.5 378.4,645.7L371.8,642.3Q370.2,641.5 370.1,639.7L369.6,626.8Q369.5,625 369.2,623.2L367.8,614.3Q367.5,612.5 366.7,610.9L358.1,594.5Q357.25,592.9 355.5,593.1L348.9,593.8Q347.1,594 346.9,592.2L346.2,586.8Q346,585 345.3,583.4L338.8,568.6Q338.1,567 339.0,565.5L340.6,562.9Q341.5,561.4 339.7,561.7L336.5,562.2Q334.75,562.5 334.2,564.2L330.8,574.3Q330.25,576 328.6,576.8L319.5,581.5Q317.9,582.3 317.4,581.0L317.3,580.7Q316.75,579.4 318.2,578.3L324.3,573.7Q325.75,572.6 326.0,570.8L327.8,557.5Q328,555.75 328.7,554.1L335.2,537.2Q335.9,535.5 335.5,533.8L335.2,532.7Q334.75,531 332.9,531.0L332.1,531.0Q330.25,531 329.3,532.5L324.4,540.7Q323.5,542.25 321.8,542.7L316.2,544.1Q314.5,544.5 313.3,545.9L297.7,564.5Q296.5,565.9 294.9,565.1L286.9,561.1Q285.25,560.25 285.0,558.5L282.1,537.3Q281.9,535.5 280.5,534.4L279.9,533.9Q278.5,532.8 276.8,532.2L272.3,530.5Q270.6,529.9 269.1,528.9L268.7,528.6Q267.25,527.6 268.3,526.2L270.7,522.9Q271.75,521.5 270.1,520.8L264.4,518.2Q262.75,517.5 262.8,515.7L262.8,513.7Q262.75,511.9 261.6,510.5L259.4,507.7Q258.25,506.25 256.5,506.4L242.0,507.3Q240.25,507.4 238.5,507.0L233.0,505.5Q231.25,505.1 230.2,503.6L225.5,496.5Q224.5,495 222.7,494.6L216.8,493.4Q215,493 213.2,493.1L201.8,493.9Q200,494 198.3,494.5L176.7,500.0Q175,500.5 173.3,501.1L151.7,509.4Q150,510 148.2,510.4L136.8,512.6Q135,513 133.2,512.6L122.8,510.4Q121,510 119.8,511.4L118.7,512.6Q117.5,514 117.0,515.7L115.5,520.3Q115,522 113.2,522.1L106.8,522.4Q105,522.5 104.4,524.2L103.1,528.3Q102.5,530 100.7,529.6L95.8,528.4Q94,528 92.7,529.3L87.3,534.7Q86,536 85.3,537.7L81.7,545.8Q81,547.5 79.3,548.2L76.7,549.3Q75,550 73.3,549.3L66.7,546.7Q65,546 63.5,546.9L55.5,551.6Q54,552.5 53.1,551.0L51.9,549.0Q51,547.5 49.4,546.8L49.1,546.7Q47.5,546 45.7,546.4L34.3,549.1Q32.5,549.5 30.8,550.0L16.7,554.5Q15,555 13.3,554.6L6.7,552.9Q5,552.5 4.9,554.3L4.1,564.2Q4,566 2.3,565.6L1.7,565.4Q0,565 -1.8,565.0L-18.2,565.0Q-20,565 -20.0,563.2Z"/>
<path d="M451.6,732.7Q451,731 451.8,729.4L453.2,726.6Q454,725 455.6,725.7L463.4,729.3Q465,730 466.7,730.5L483.3,735.5Q485,736 486.8,736.0L498.2,736.0Q500,736 501.7,735.5L515.8,731.5Q517.5,731 518.0,732.7L519.5,738.3Q520,740 520.3,741.8L522.2,753.2Q522.5,755 521.5,756.5L518.5,761.0Q517.5,762.5 517.1,764.3L514.4,775.7Q514,777.5 514.1,779.3L514.9,788.2Q515,790 513.2,790.4L511.8,790.6Q510,791 508.7,789.7L505.3,786.3Q504,785 503.2,786.6L499.8,793.4Q499,795 498.1,796.6L495.9,800.4Q495,802 494.7,803.8L490.3,828.2Q490,830 489.4,828.3L481.6,803.7Q481,802 480.4,800.3L478.1,794.2Q477.5,792.5 476.5,791.0L470.0,781.5Q469,780 469.0,778.2L469.0,771.8Q469,770 470.0,768.5L471.5,766.5Q472.5,765 470.9,764.2L465.6,761.8Q464,761 463.2,759.4L456.8,746.6Q456,745 455.4,743.3Z"/>
</g>
<circle cx="290.9" cy="489.4" r="1.8" fill="none" stroke="#c9c9c9" stroke-width="1.2"/>

<!-- flights -->
<path class="fl" d="M258.9,288.8L264.3,290.0M276.7,292.6L282.1,294.2M294.8,298.4L300.0,300.4M311.5,305.7L316.5,308.3M327.6,314.5L332.4,317.5M343.2,325.2L347.6,328.8M357.1,337.3L360.9,341.5M368.8,351.7L372.0,356.3M378.7,367.5L381.3,372.5M386.6,384.2L388.6,389.4M392.3,401.3L393.7,406.7M396.8,419.5L397.8,425.1M399.0,438.5L399.4,444.0M399.8,456.7L399.8,462.3M399.5,475.2L399.1,480.8M397.7,494.2L396.9,499.8M395.0,512.5L394.0,518.1M391.7,530.7L390.5,536.1M387.7,548.5L386.3,554.0M382.4,566.8L380.6,572.2M376.1,584.4L374.3,589.6"/>
<path class="fl" d="M200.6,351.3L206.2,351.5M218.6,352.0L224.2,352.4M236.2,353.5L241.8,354.1M253.6,356.0L259.2,356.8M271.7,358.8L277.1,360.0M289.3,362.9L294.7,364.3M306.7,367.6L312.1,369.2M323.8,373.1L329.0,374.9M340.8,379.3L346.0,381.5M357.5,386.4L362.5,388.8M373.5,394.3L378.5,396.9M388.9,402.7L393.9,405.3M405.1,411.1L409.9,413.9M420.2,420.7L424.8,423.7M435.2,430.6L439.8,433.8M449.8,440.8L454.2,444.2M464.1,451.9L468.4,455.6M478.0,464.3L482.0,468.2M491.0,476.8L495.0,480.7M503.8,489.2L507.7,493.3M515.6,502.2L519.4,506.3M528.2,515.4L531.8,519.6M539.5,529.1L543.0,533.4M550.8,542.8L554.2,547.2"/>

<!-- overland route -->
<path class="rt" d="M481.2,160.7 C480,195 488,223 529.5,225"/>
<path class="rt" d="M529.5,225 C542,217 566,216 566.7,248.2"/>
<path class="rt" d="M529.5,225 C534,238 545,247 566.7,248.2"/>
<path class="rt" d="M529.5,225 C518,270 543,332 581.3,367"/>
<path class="rt" d="M581.3,367 C586.5,352 590,341 604,345.1"/>
<path class="rt" d="M581.3,367 C594,364.5 603,359 604,345.1"/>
<path class="rt" d="M581.3,367 C590,374 602,386 606.9,399.2 C609,405 611,414 612,423.4 C605,440 599,468 604,496.6 C585,512 571,535 563.5,560.6"/>
<path class="rt" d="M343.1,500.8 C338,535 350,575 369.2,604.6"/>
<path class="rt" d="M343.1,500.8 C360,520 374,565 369.2,604.6"/>
<path class="rt" d="M369.2,604.6 L422.8,635.8 C428,648 427,662 419.8,674.4 C440,673 460,665 480.6,656.7"/>
<path class="rt" d="M186.1,351.5 C186,338 189,328 195.25,317.5 C205,301 222,288 244.25,286.25"/>

<!-- G for Good -->
<path d="M566.7,248.2 L590,274" fill="none" stroke="#7fcfc3" stroke-width="4.5"/>
<rect x="579.4" y="272.1" width="132.1" height="27.7" rx="5.6" fill="#7fcfc3"/>
<text class="gfg" transform="scale(0.96,1)" x="616.69 630.73 633.75 643.93 656.72 669.79 673.57 687.66 700.94 716.15" y="290.9">G FOR GOOD</text>
<circle cx="566.7" cy="248.2" r="10.5" fill="#000" stroke="#7fcfc3" stroke-width="5"/>

<!-- stops -->
<g class="dot">
<circle cx="529.5" cy="225" r="8"/>
<circle cx="566.7" cy="248.2" r="8"/>
<circle cx="581.3" cy="367" r="8"/>
<circle cx="604" cy="345.1" r="8"/>
<circle cx="606.9" cy="399.2" r="8"/>
<circle cx="612" cy="423.4" r="8"/>
<circle cx="604" cy="496.6" r="8"/>
<circle cx="563.5" cy="560.6" r="8"/>
<circle cx="343.1" cy="500.8" r="8"/>
<circle cx="369.2" cy="604.6" r="8"/>
<circle cx="422.8" cy="635.8" r="8"/>
<circle cx="419.8" cy="674.4" r="8"/>
<circle cx="244.25" cy="286.25" r="8"/>
<circle cx="195.25" cy="317.5" r="8"/>
<circle cx="186.1" cy="351.5" r="8"/>
</g>
<circle cx="481.2" cy="152.7" r="13.2" fill="#4d3692" stroke="#e5535a" stroke-width="4.2"/>
<circle cx="480.6" cy="656.7" r="13.2" fill="#4d3692" stroke="#e5535a" stroke-width="4.2"/>

<!-- direction arrows -->
<path class="arr" d="M531.75,308.75 L537.5,298.75 L547.5,303.25"/>
<path class="arr" d="M573.6,518 L584.9,516.25 L587.1,527"/>
<path class="arr" d="M401.5,613.4 L390.15,617.6 L393.7,627.4"/>
<path class="arr" d="M211.25,288.75 L209,300.5 L220.75,301.75"/>
<path d="M373.2,655.4 L417.1,638.4" stroke="#000" stroke-width="1" fill="none"/>

<!-- transport icons -->
<g transform="translate(456,200.1)">
<path d="M0.3,3 L3.5,0.1 L21.8,0.1 Q22.8,0.3 22.8,1.6 L22.8,8.7 L0,8.7 Z" fill="#000"/>
<path d="M0.8,7.4 L22.6,4.1" stroke="#fff" stroke-width="0.55" fill="none"/>
<rect x="3" y="1.9" width="2.2" height="1.2" fill="#fff" opacity=".85"/>
<rect x="9.3" y="2.2" width="1.4" height="0.9" fill="#fff" opacity=".6"/>
<rect x="13.3" y="2.1" width="1.4" height="0.9" fill="#fff" opacity=".6"/>
<rect x="17.3" y="2" width="1.4" height="0.9" fill="#fff" opacity=".6"/>
<rect x="1.2" y="8.7" width="5.6" height="2.1" fill="#000"/>
<rect x="13.8" y="8.7" width="7.8" height="2.1" fill="#000"/>
</g>
<g transform="translate(515,318.4)">
<path d="M0.3,3 L3.5,0.1 L21.8,0.1 Q22.8,0.3 22.8,1.6 L22.8,8.7 L0,8.7 Z" fill="#000"/>
<path d="M0.8,7.4 L22.6,4.1" stroke="#fff" stroke-width="0.55" fill="none"/>
<rect x="3" y="1.9" width="2.2" height="1.2" fill="#fff" opacity=".85"/>
<rect x="9.3" y="2.2" width="1.4" height="0.9" fill="#fff" opacity=".6"/>
<rect x="13.3" y="2.1" width="1.4" height="0.9" fill="#fff" opacity=".6"/>
<rect x="17.3" y="2" width="1.4" height="0.9" fill="#fff" opacity=".6"/>
<rect x="1.2" y="8.7" width="5.6" height="2.1" fill="#000"/>
<rect x="13.8" y="8.7" width="7.8" height="2.1" fill="#000"/>
</g>
<g transform="translate(569.3,388.8)" fill="none" stroke="#111" stroke-width="1.05" stroke-linejoin="round">
<path d="M0.6,10.6 L0.6,6 Q1,1.2 5.5,0.5 L20.5,0.5 Q23.2,0.8 23.2,3.5 L23.2,10.6 L21,10.6 M15.6,10.6 L8,10.6 M2.6,10.6 L0.6,10.6"/>
<path d="M2.2,3 L19.8,3 L19.8,4.8 L1.6,4.8 Z"/>
<path d="M5.6,3 V4.8 M8.4,3 V4.8 M11.3,3 V4.8 M14.2,3 V4.8 M17,3 V4.8" stroke-width="1.1"/>
<path d="M0.8,6.3 L23,6.3 M21.2,1.5 L21.2,6.3" stroke-width="0.8"/>
<circle cx="5.2" cy="10.9" r="2.3"/>
<circle cx="5.2" cy="10.9" r="0.8" stroke-width="0.8"/>
<circle cx="18.4" cy="10.9" r="2.3"/>
<circle cx="18.4" cy="10.9" r="0.8" stroke-width="0.8"/>
</g>
<g transform="translate(573.6,449.6)" fill="none" stroke="#111" stroke-width="1.05" stroke-linejoin="round">
<path d="M0.6,10.6 L0.6,6 Q1,1.2 5.5,0.5 L20.5,0.5 Q23.2,0.8 23.2,3.5 L23.2,10.6 L21,10.6 M15.6,10.6 L8,10.6 M2.6,10.6 L0.6,10.6"/>
<path d="M2.2,3 L19.8,3 L19.8,4.8 L1.6,4.8 Z"/>
<path d="M5.6,3 V4.8 M8.4,3 V4.8 M11.3,3 V4.8 M14.2,3 V4.8 M17,3 V4.8" stroke-width="1.1"/>
<path d="M0.8,6.3 L23,6.3 M21.2,1.5 L21.2,6.3" stroke-width="0.8"/>
<circle cx="5.2" cy="10.9" r="2.3"/>
<circle cx="5.2" cy="10.9" r="0.8" stroke-width="0.8"/>
<circle cx="18.4" cy="10.9" r="2.3"/>
<circle cx="18.4" cy="10.9" r="0.8" stroke-width="0.8"/>
</g>
<g transform="translate(409.7,603.8)" fill="none" stroke="#111" stroke-width="1.05" stroke-linejoin="round">
<path d="M0.6,10.6 L0.6,6 Q1,1.2 5.5,0.5 L20.5,0.5 Q23.2,0.8 23.2,3.5 L23.2,10.6 L21,10.6 M15.6,10.6 L8,10.6 M2.6,10.6 L0.6,10.6"/>
<path d="M2.2,3 L19.8,3 L19.8,4.8 L1.6,4.8 Z"/>
<path d="M5.6,3 V4.8 M8.4,3 V4.8 M11.3,3 V4.8 M14.2,3 V4.8 M17,3 V4.8" stroke-width="1.1"/>
<path d="M0.8,6.3 L23,6.3 M21.2,1.5 L21.2,6.3" stroke-width="0.8"/>
<circle cx="5.2" cy="10.9" r="2.3"/>
<circle cx="5.2" cy="10.9" r="0.8" stroke-width="0.8"/>
<circle cx="18.4" cy="10.9" r="2.3"/>
<circle cx="18.4" cy="10.9" r="0.8" stroke-width="0.8"/>
</g>
<g fill="#000">
<path d="M558.2,213.2 Q566,211.8 574.6,210.9 Q573.5,213.8 571.8,215 Q565,215.9 558.6,215.5 Z"/>
<path d="M567.3,192.6 Q573.8,200 573.8,208.6 L566.8,210.1 Q569.6,201 567.3,192.6 Z"/>
<path d="M566.7,193.6 Q565.5,202 559.6,209.7 L565,208.7 Q567,201 566.7,193.6 Z"/>
</g>
<path d="M0,-10.8 C1,-10.8 1.5,-9 1.5,-7.5 L1.5,-4 L10.9,4.2 L10.9,5.5 L1.5,1.9 L1.2,7.2 L4,10.6 L4,11.7 L0,10 L-4,11.7 L-4,10.6 L-1.2,7.2 L-1.5,1.9 L-10.9,5.5 L-10.9,4.2 L-1.5,-4 L-1.5,-7.5 C-1.5,-9 -1,-10.8 0,-10.8Z" transform="translate(383.2,339.6) rotate(-34.8)"/>
<path d="M0,-10.8 C1,-10.8 1.5,-9 1.5,-7.5 L1.5,-4 L10.9,4.2 L10.9,5.5 L1.5,1.9 L1.2,7.2 L4,10.6 L4,11.7 L0,10 L-4,11.7 L-4,10.6 L-1.2,7.2 L-1.5,1.9 L-10.9,5.5 L-10.9,4.2 L-1.5,-4 L-1.5,-7.5 C-1.5,-9 -1,-10.8 0,-10.8Z" transform="translate(322,392.4) rotate(115.4)"/>

<!-- labels -->
<text class="big" x="435.25" y="108.3" textLength="99.21" lengthAdjust="spacingAndGlyphs">Cairns</text>
<text class="big" x="512.75" y="667.8" textLength="166.53" lengthAdjust="spacingAndGlyphs">Melbourne</text>
<text class="tag" x="469" y="127.1" textLength="30.55" lengthAdjust="spacing">END</text>
<text class="tag" x="572.5" y="687.2" textLength="45.5" lengthAdjust="spacing">START</text>
<text class="ctry" x="250" y="204.8" textLength="117.65" lengthAdjust="spacing">AUSTRALIA</text>
<text class="pl" x="415.25" y="246.8" textLength="102.85" lengthAdjust="spacingAndGlyphs">Airlie Beach</text>
<text class="pl" x="583.75" y="239.6" textLength="100.39" lengthAdjust="spacingAndGlyphs">Whitsunday</text>
<text class="pl" x="603.75" y="260.7" textLength="59.7" lengthAdjust="spacingAndGlyphs">Islands</text>
<text class="pl" x="650.75" y="333.5" textLength="48.27" lengthAdjust="spacingAndGlyphs">K&#x27;gari</text>
<text class="pl" x="614.5" y="354.8" textLength="120.75" lengthAdjust="spacingAndGlyphs">(Fraser Island)</text>
<text class="pl" x="497" y="362.1" textLength="53.28" lengthAdjust="spacingAndGlyphs">Noosa</text>
<text class="pl" x="476.75" y="383.1" textLength="95.15" lengthAdjust="spacingAndGlyphs">Everglades</text>
<text class="pl" x="623.25" y="404.9" textLength="75.74" lengthAdjust="spacingAndGlyphs">Brisbane</text>
<text class="pl" x="513.75" y="428.1" textLength="86.99" lengthAdjust="spacingAndGlyphs">Byron Bay</text>
<text class="pl" x="635.75" y="483.9" textLength="56.68" lengthAdjust="spacingAndGlyphs">Spot X</text>
<text class="pl" x="621" y="505" textLength="90.14" lengthAdjust="spacingAndGlyphs">Surf Camp</text>
<text class="pl" x="618.5" y="527.1" textLength="95.05" lengthAdjust="spacingAndGlyphs">(Arrawarra)</text>
<text class="pl" x="582" y="566.2" textLength="62.13" lengthAdjust="spacingAndGlyphs">Sydney</text>
<text class="pl" x="275.75" y="610.7" textLength="75.29" lengthAdjust="spacingAndGlyphs">Adelaide</text>
<text class="pl" x="232.25" y="481.3" textLength="117.05" lengthAdjust="spacingAndGlyphs">Ikara-Flinders</text>
<text class="pl" x="259.25" y="502.7" textLength="63.85" lengthAdjust="spacingAndGlyphs">Ranges</text>
<text class="pl" x="251.75" y="665.25" textLength="120.49" lengthAdjust="spacingAndGlyphs">Grampians NP</text>
<text class="pl" x="359" y="704.9" textLength="122.76" lengthAdjust="spacingAndGlyphs">Port Campbell</text>
<text class="pl" x="223.25" y="246.25" textLength="42.48" lengthAdjust="spacingAndGlyphs">Alice</text>
<text class="pl" x="212.5" y="267.5" textLength="63.99" lengthAdjust="spacingAndGlyphs">Springs</text>
<text class="pl" x="121" y="302.5" textLength="47.24" lengthAdjust="spacingAndGlyphs">Kings</text>
<text class="pl" x="111.25" y="323.8" textLength="66.49" lengthAdjust="spacingAndGlyphs">Canyon</text>
<text class="pl" x="156" y="379.9" textLength="46.76" lengthAdjust="spacingAndGlyphs">Uluru</text>
<text class="pl" x="125.5" y="400.9" textLength="107.4" lengthAdjust="spacingAndGlyphs">(Ayers Rock)</text>
</svg>
</body>
</html>
